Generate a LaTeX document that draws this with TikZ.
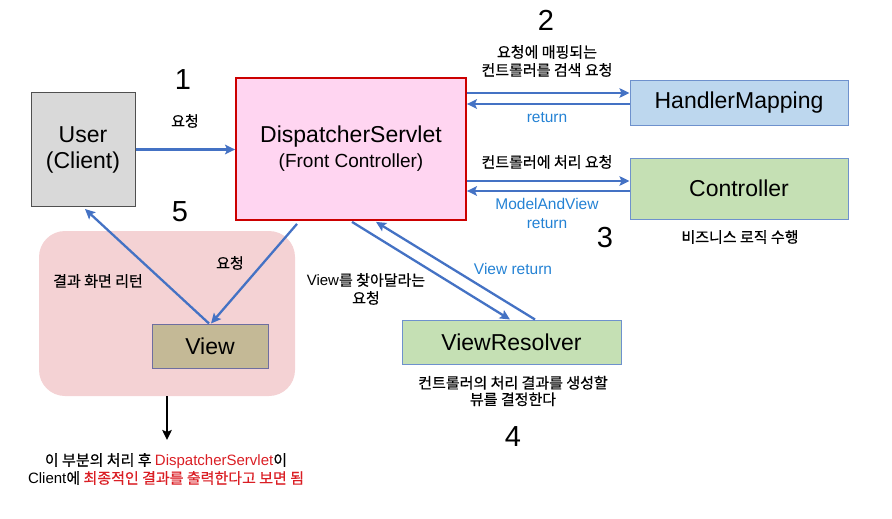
\documentclass[tikz,border=0pt]{standalone}
\usepackage{fontspec}
\setmainfont{Liberation Sans}
\newfontfamily\kr[FakeBold=0.6]{Noto Sans CJK KR}
\usetikzlibrary{arrows.meta}
\definecolor{arrblue}{RGB}{68,114,196}
\definecolor{txtblue}{RGB}{36,130,212}
\definecolor{txtred}{RGB}{218,30,36}
\definecolor{userfill}{RGB}{217,217,217}
\definecolor{userdraw}{RGB}{80,80,80}
\definecolor{dsfill}{RGB}{255,213,241}
\definecolor{dsdraw}{RGB}{204,0,0}
\definecolor{hmfill}{RGB}{189,215,238}
\definecolor{boxdraw}{RGB}{110,145,205}
\definecolor{grfill}{RGB}{197,224,180}
\definecolor{regfill}{RGB}{244,210,212}
\definecolor{viewfill}{RGB}{196,185,150}
\definecolor{viewdraw}{RGB}{110,110,160}
\tikzset{
  box/.style={draw, line width=1pt, inner sep=0pt, align=center, font=\fontsize{23}{26}\selectfont},
  arr/.style={draw=arrblue, line width=2.3pt, -{Stealth[length=10pt,width=9.5pt,inset=2pt]}},
  darr/.style={draw=black, line width=2.3pt, -{Stealth[length=10pt,width=9.5pt,inset=2pt]}},
  num/.style={font=\fontsize{29}{32}\selectfont},
  krlab/.style={align=center, font=\fontsize{15}{18}\selectfont\kr},
  bluelab/.style={align=center, text=txtblue, font=\fontsize{15.5}{19}\selectfont},
}
\begin{document}
\begin{tikzpicture}[x=1pt,y=-1pt]
\useasboundingbox (0,0) rectangle (892,519);
% region
\node[fill=regfill, rounded corners=26pt, minimum width=256pt, minimum height=165pt, inner sep=0pt] (region) at (167,313.5) {};
% boxes
\node[box, fill=userfill, draw=userdraw, minimum width=104pt, minimum height=114pt] (user) at (83,149.5) {User\\(Client)};
\node[box, fill=dsfill, draw=dsdraw, line width=1.8pt, minimum width=230pt, minimum height=142pt] (ds) at (351,149) {DispatcherServlet\\[-1pt]{\fontsize{19}{22}\selectfont(Front Controller)}};
\node[box, fill=hmfill, draw=boxdraw, minimum width=218pt, minimum height=44pt] (hm) at (739,103) {HandlerMapping};
\node[box, fill=grfill, draw=boxdraw, minimum width=218pt, minimum height=61pt] (ctrl) at (739,188.5) {Controller};
\node[box, fill=grfill, draw=boxdraw, minimum width=219pt, minimum height=44pt] (vr) at (511.5,342) {ViewResolver};
\node[box, fill=viewfill, draw=viewdraw, minimum width=116pt, minimum height=44pt] (view) at (210,346) {View};
% numbers
\node[num] (n1) at (183,80) {1};
\node[num] (n2) at (546,20) {2};
\node[num] (n3) at (605,238) {3};
\node[num] (n4) at (513,437) {4};
\node[num] (n5) at (180,212) {5};
% labels
\node[krlab] (l1) at (185,121) {요청};
\node[krlab] (l2) at (547,61) {요청에 매핑되는\\컨트롤러를 검색 요청};
\node[bluelab] (l2r) at (547,118) {return};
\node[krlab] (l3) at (547,162) {컨트롤러에 처리 요청};
\node[bluelab] (l3r) at (547,213.5) {ModelAndView\\return};
\node[krlab] (l3b) at (740,237) {비즈니스 로직 수행};
\node[align=center, font=\fontsize{15}{18}\selectfont] (l4) at (366,289) {View{\kr 를 찾아달라는}\\{\kr 요청}};
\node[bluelab] (l4r) at (513,269) {View return};
\node[krlab, font=\fontsize{15}{16.5}\selectfont\kr] (l4b) at (513,391) {컨트롤러의 처리 결과를 생성할\\뷰를 결정한다};
\node[krlab] (l5a) at (230,263) {요청};
\node[krlab] (l5b) at (98,281) {결과 화면 리턴};
\node[align=center, font=\fontsize{15}{18}\selectfont] (note) at (166,469) {{\kr 이 부분의 처리 후 }\textcolor{txtred}{DispatcherServlet}{\kr 이}\\Client{\kr 에 \textcolor{txtred}{최종적인 결과를 출력한다고 보면 됨}}};
% connector helper coordinates
\coordinate (hmIn) at ([yshift=10pt]hm.west);
\coordinate (hmOut) at ([yshift=-1pt]hm.west);
\coordinate (ctIn) at ([yshift=7.5pt]ctrl.west);
\coordinate (ctOut) at ([yshift=-2.5pt]ctrl.west);
\coordinate (downEnd) at (167,440);
% connectors
\draw[arr] (user.east) -- (user.east -| ds.west);
\draw[arr] (hmIn -| ds.east) -- (hmIn);
\draw[arr] (hmOut) -- (hmOut -| ds.east);
\draw[arr] (ctIn -| ds.east) -- (ctIn);
\draw[arr] (ctOut) -- (ctOut -| ds.east);
\draw[arr] ([xshift=-54pt,yshift=-3pt]ds.south) -- ([xshift=1pt]view.north);
\draw[arr] ([xshift=-1pt]view.north) -- ([xshift=2pt,yshift=-2pt]user.south);
\draw[arr] ([xshift=1pt,yshift=-1pt]ds.south) -- ([xshift=-1.5pt]vr.north);
\draw[arr] ([xshift=23.5pt]vr.north) -- ([xshift=25pt,yshift=-1pt]ds.south);
\draw[darr] (region.south) -- (downEnd);
\end{tikzpicture}
\end{document}
